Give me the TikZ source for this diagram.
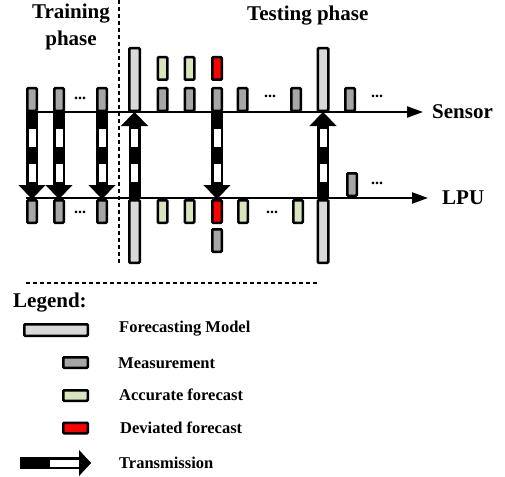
\documentclass[tikz,border=0pt]{standalone}
\usepackage{fontspec}
\setmainfont{Liberation Serif}
\usetikzlibrary{arrows.meta, calc}
\definecolor{fcModel}{RGB}{217,217,217}
\definecolor{fcMeas}{RGB}{166,166,166}
\definecolor{fcAcc}{RGB}{215,228,189}
\definecolor{fcDev}{RGB}{255,0,0}
% striped transmission arrow between two named points
\newcommand{\transmit}[2]{%
  \coordinate (hb) at ($(#2)!14pt!(#1)$);
  \draw[tshaft] (#1) -- (hb);
  \draw[tinner] (#1) -- (hb);
  \draw[tstripe] (#1) -- (hb);
  \draw[thead] (hb) -- (#2);}

\begin{document}
\begin{tikzpicture}[x=1pt, y=-1pt,
    bar/.style={draw, line width=2.5pt, rounded corners=1pt, inner sep=0pt,
      minimum width=9.5pt, minimum height=22.5pt},
    meas/.style={bar, fill=fcMeas},
    acc/.style={bar, fill=fcAcc},
    dev/.style={bar, fill=fcDev},
    model/.style={bar, fill=fcModel, minimum width=10.5pt, minimum height=62.5pt},
    axis/.style={line width=2.2pt, -{Triangle[length=16pt, width=11pt]}},
    sep/.style={line width=2.5pt, dash pattern=on 4pt off 3pt},
    title/.style={font=\fontsize{21}{27}\selectfont\bfseries, inner sep=0pt, align=center},
    lbl/.style={font=\fontsize{16.5}{19}\selectfont\bfseries, inner sep=0pt, anchor=base west},
    dots/.style={font=\fontsize{16}{18}\selectfont\bfseries, inner sep=0pt},
    tshaft/.style={line width=12pt, draw=black},
    tinner/.style={line width=7pt, draw=white},
    tstripe/.style={line width=7pt, draw=black, dash pattern=on 17pt off 18pt},
    thead/.style={-{Triangle[width=27pt, length=14pt]}}
  ]
    \path[use as bounding box, fill=white] (0,0) rectangle (505,476);

    % phases
    \node[title, anchor=north] (train) at (71,4) {Training\\phase};
    \node[title, anchor=base west] (test) at (247,21) {Testing phase};
    \coordinate (sepTop) at (119,0);
    \coordinate (sepBot) at (119,263);
    \draw[sep] (sepTop) -- (sepBot);

    % time axes
    \coordinate (sens0) at (26,112);
    \coordinate (lpu0) at (26,198);
    \node[title, anchor=base west] (sensor) at (432,118) {Sensor};
    \node[title, anchor=base west] (lpu) at (442,204) {LPU};
    \draw[axis] (sens0) -- ([xshift=-9pt]sensor.west |- sens0);
    \draw[axis] (lpu0) -- ([xshift=-14pt]lpu.west |- lpu0);

    % sensor side
    \node[meas, anchor=south] (s1) at (32,112) {};
    \node[meas, anchor=south] (s2) at (59,112) {};
    \node[meas, anchor=south] (s3) at (102,112) {};
    \node[model, anchor=south] (ms1) at (134.5,112) {};
    \node[meas, anchor=south] (s4) at (162.5,112) {};
    \node[meas, anchor=south] (s5) at (189.5,112) {};
    \node[meas, anchor=south] (s6) at (217,112) {};
    \node[meas, anchor=south] (s7) at (242.5,112) {};
    \node[meas, anchor=south] (s8) at (296,112) {};
    \node[model, anchor=south] (ms2) at (323,112) {};
    \node[meas, anchor=south] (s9) at (350,112) {};
    \node[acc, anchor=south] (fs1) at (162.5,81) {};
    \node[acc, anchor=south] (fs2) at (189.5,81) {};
    \node[dev, anchor=south] (fs3) at (217,81) {};
    \node[dots] (ds1) at (80,98) {...};
    \node[dots] (ds2) at (270,96) {...};
    \node[dots] (ds3) at (377,96) {...};

    % LPU side
    \node[meas, anchor=north] (p1) at (32,199) {};
    \node[meas, anchor=north] (p2) at (59,199) {};
    \node[meas, anchor=north] (p3) at (102,199) {};
    \node[model, anchor=north] (mp1) at (134.5,199) {};
    \node[acc, anchor=north] (fp1) at (162.5,199) {};
    \node[acc, anchor=north] (fp2) at (189.5,199) {};
    \node[dev, anchor=north] (fp3) at (217,199) {};
    \node[meas, anchor=north] (p4) at (217,228) {};
    \node[acc, anchor=north] (fp4) at (243,199) {};
    \node[acc, anchor=north] (fp5) at (298,199) {};
    \node[model, anchor=north] (mp2) at (323,199) {};
    \node[meas, anchor=south] (p5) at (352,197) {};
    \node[dots] (dp1) at (80,212) {...};
    \node[dots] (dp2) at (272,212) {...};
    \node[dots] (dp3) at (377,183) {...};

    % transmissions
    \transmit{s1.south}{p1.north}
    \transmit{s2.south}{p2.north}
    \transmit{s3.south}{p3.north}
    \transmit{mp1.north}{ms1.south}
    \transmit{s6.south}{fp3.north}
    \transmit{mp2.north}{ms2.south}

    % legend
    \coordinate (lgL) at (26,283);
    \coordinate (lgR) at (318,283);
    \draw[sep] (lgL) -- (lgR);
    \node[title, anchor=base west] (legend) at (13,307) {Legend:};
    \node[bar, fill=fcModel, minimum width=63.5pt, minimum height=11.5pt] (kModel) at (56,330) {};
    \node[meas, minimum width=24.5pt, minimum height=10.5pt] (kMeas) at (75.5,362.5) {};
    \node[acc, minimum width=24.5pt, minimum height=10.5pt] (kAcc) at (75.5,395.5) {};
    \node[dev, minimum width=24.5pt, minimum height=10.5pt] (kDev) at (75.5,428) {};
    \coordinate (kT0) at (20,463);
    \coordinate (kTm) at (50,463);
    \coordinate (kTh) at (79,463);
    \coordinate (kT1) at (91,463);
    \draw[tshaft] (kT0) -- (kTh);
    \draw[tinner] (kTm) -- (kTh);
    \draw[-{Triangle[width=26pt, length=12pt]}] (kTh) -- (kT1);
    \node[lbl] (tModel) at (119,332) {Forecasting Model};
    \node[lbl] (tMeas) at (118,368) {Measurement};
    \node[lbl] (tAcc) at (119,400) {Accurate forecast};
    \node[lbl] (tDev) at (120,433) {Deviated forecast};
    \node[lbl] (tTrans) at (119,468) {Transmission};
  \end{tikzpicture}
\end{document}
